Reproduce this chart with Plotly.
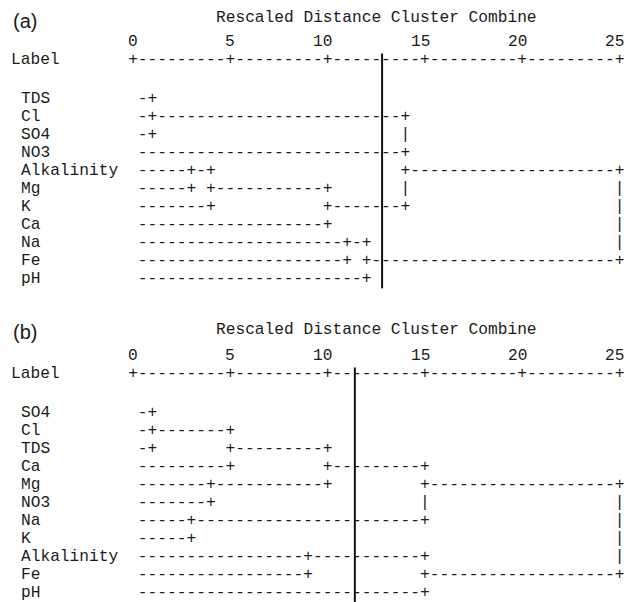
import plotly.graph_objects as go

# ---------------- data ----------------
# Panel (a): leaf order and agglomeration schedule (rescaled distance 0-25)
labels_a = ["TDS", "Cl", "SO4", "NO3", "Alkalinity", "Mg", "K", "Ca", "Na", "Fe", "pH"]
# (cluster i, cluster j, rescaled distance); leaves are 0..10, merge k creates cluster 11+k
merges_a = [(0, 1, 1.0), (11, 2, 1.0), (4, 5, 3.0), (13, 6, 4.0), (14, 7, 10.0),
            (8, 9, 11.0), (16, 10, 12.0), (12, 3, 14.0), (18, 15, 14.0), (19, 17, 25.0)]
cut_a = 12.8

# Panel (b)
labels_b = ["SO4", "Cl", "TDS", "Ca", "Mg", "NO3", "Na", "K", "Alkalinity", "Fe", "pH"]
merges_b = [(0, 1, 1.0), (11, 2, 1.0), (6, 7, 3.0), (4, 5, 4.0), (12, 3, 5.0),
            (8, 9, 9.0), (15, 14, 10.0), (17, 13, 15.0), (16, 10, 15.0), (18, 19, 25.0)]
cut_b = 11.4

tick_vals = [0, 5, 10, 15, 20, 25]
tick_text = ["0", "5", "10", "15", "20", "25"]
axis_title = "Rescaled Distance Cluster Combine"
header_label = "Label"
panel_tags = ["(a)", "(b)"]

# ---------------- style / layout ----------------
W, H = 632, 602
FONT_MONO = "Liberation Mono, Courier New, monospace"
FONT_SANS = "Liberation Sans, Arial, sans-serif"
INK = "#1a1a1a"
MONO_SIZE = 16.2
PX_PER_UNIT = 19.46
X0_PX = 133.0
ROW_STEP = 18.05
CHARS_PER_UNIT = 2

x_lo = -X0_PX / PX_PER_UNIT
x_hi = x_lo + W / PX_PER_UNIT


def build_grid(n, merges):
    """SPSS-style text dendrogram: returns {(row, col): char}."""
    grid = {}
    row = {i: i for i in range(n)}
    col = {i: 0 for i in range(n)}
    leaf = {i: True for i in range(n)}
    for k, (a, b, d) in enumerate(merges):
        c = int(round(d * CHARS_PER_UNIT))
        for cl in (a, b):
            r, c0 = row[cl], col[cl]
            if c > c0:
                if not leaf[cl]:
                    grid[(r, c0)] = "+"
                for cc in range(c0 + 1, c):
                    grid[(r, cc)] = "-"
                grid[(r, c)] = "+"
        r1, r2 = sorted((row[a], row[b]))
        for rr in range(r1 + 1, r2):
            if grid.get((rr, c)) != "+":
                grid[(rr, c)] = "|"
        new = n + k
        row[new] = (r1 + r2) // 2
        col[new] = c
        leaf[new] = False
    return grid


panels = [
    dict(tag=panel_tags[0], labels=labels_a, merges=merges_a, cut=cut_a,
         xa="x", ya="y", row0_px=98.8, dom=[0.5, 1.0], title_row=-4.46, tag_row=-4.31),
    dict(tag=panel_tags[1], labels=labels_b, merges=merges_b, cut=cut_b,
         xa="x2", ya="y2", row0_px=412.8, dom=[0.0, 0.5], title_row=-4.61, tag_row=-4.48),
]

AXIS_ROW = -2.15
TICK_ROW = -3.15

fig = go.Figure()
annotations = []
layout_axes = {}

for i, p in enumerate(panels):
    n = len(p["labels"])
    grid = build_grid(n, p["merges"])
    # axis rule  +---------+---------+ ...
    ncols = int(max(tick_vals) * CHARS_PER_UNIT)
    tick_cols = {int(v * CHARS_PER_UNIT) for v in tick_vals}
    for cc in range(ncols + 1):
        grid[(AXIS_ROW, cc)] = "+" if cc in tick_cols else "-"

    for ch in ["-", "+", "|"]:
        pts = [(r, cc) for (r, cc), v in grid.items() if v == ch]
        fig.add_trace(go.Scatter(
            x=[cc / CHARS_PER_UNIT for r, cc in pts],
            y=[r for r, cc in pts],
            text=[ch] * len(pts),
            mode="text",
            textposition="middle center",
            textfont=dict(family=FONT_MONO, size=MONO_SIZE, color=INK),
            hoverinfo="skip",
            xaxis=p["xa"], yaxis=p["ya"],
            showlegend=False,
        ))

    # cut line
    fig.add_trace(go.Scatter(
        x=[p["cut"], p["cut"]], y=[AXIS_ROW - 0.36, n - 0.5],
        mode="lines", line=dict(color="#111111", width=2),
        hoverinfo="skip", xaxis=p["xa"], yaxis=p["ya"], showlegend=False,
    ))

    common = dict(xref=p["xa"], yref=p["ya"], showarrow=False,
                  borderpad=0, borderwidth=0, yanchor="middle")
    mono = dict(family=FONT_MONO, size=MONO_SIZE, color=INK)
    # leaf labels
    for r, lab in enumerate(p["labels"]):
        annotations.append(dict(x=(-11 - 0.5) / CHARS_PER_UNIT, y=r, text=lab,
                                xanchor="left", font=mono, **common))
    annotations.append(dict(x=(-12 - 0.5) / CHARS_PER_UNIT, y=AXIS_ROW, text=header_label,
                            xanchor="left", font=mono, **common))
    for v, t in zip(tick_vals, tick_text):
        annotations.append(dict(x=v + 0.5 / CHARS_PER_UNIT, y=TICK_ROW, text=t,
                                xanchor="right", font=mono, **common))
    annotations.append(dict(x=(tick_vals[0] + tick_vals[-1]) / 2, y=p["title_row"], text=axis_title,
                            xanchor="center", font=mono, **common))
    annotations.append(dict(x=(-12 - 0.5) / CHARS_PER_UNIT + 0.07, y=p["tag_row"], text=p["tag"],
                            xanchor="left", font=dict(family=FONT_SANS, size=20, color=INK), **common))

    top_px = H * (1 - p["dom"][1])
    bot_px = H * (1 - p["dom"][0])
    yr = [(bot_px - p["row0_px"]) / ROW_STEP, (top_px - p["row0_px"]) / ROW_STEP]
    xname = "xaxis" if p["xa"] == "x" else "xaxis2"
    yname = "yaxis" if p["ya"] == "y" else "yaxis2"
    layout_axes[xname] = dict(range=[x_lo, x_hi], visible=False, domain=[0, 1],
                              anchor=p["ya"], fixedrange=True)
    layout_axes[yname] = dict(range=yr, visible=False, domain=p["dom"],
                              anchor=p["xa"], fixedrange=True)

fig.update_layout(
    width=W, height=H,
    margin=dict(l=0, r=0, t=0, b=0),
    paper_bgcolor="white", plot_bgcolor="white",
    showlegend=False,
    annotations=annotations,
    **layout_axes,
)

fig.write_html(
    "out.html",
    config={"displayModeBar": False},
    post_script="document.body.style.margin='0';document.body.style.padding='0';document.body.style.overflow='hidden';",
)
